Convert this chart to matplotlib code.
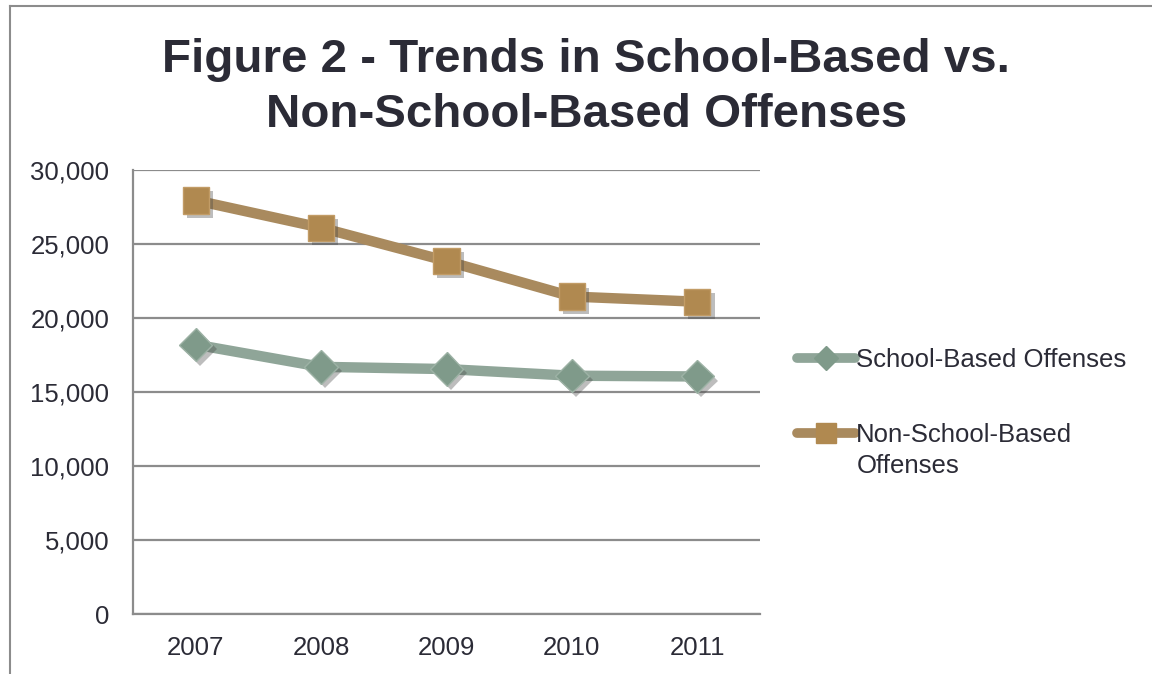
import matplotlib
matplotlib.use('Agg')
import matplotlib.pyplot as plt
import matplotlib.patheffects as pe
from matplotlib.lines import Line2D
from matplotlib.ticker import FuncFormatter

years = ['2007', '2008', '2009', '2010', '2011']
school_based = [18200, 16700, 16550, 16100, 16050]
non_school_based = [27950, 26100, 23850, 21450, 21100]
series_names = ['School-Based Offenses', 'Non-School-Based', 'Offenses']

plt.rcParams['font.family'] = ['Liberation Sans', 'DejaVu Sans']
text_color = '#2b2b36'
grid_color = '#8c8c8c'
green_line = '#8fa598'
green_mark = '#7f9a8a'
brown_line = '#a98a5e'
brown_mark = '#b08950'

W, H = 1152, 674
fig = plt.figure(figsize=(W / 100, H / 100), dpi=100)
ax = fig.add_axes([133 / W, 1 - 614 / H, (760 - 133) / W, (614 - 170) / H])

x = list(range(len(years)))
shadow = [pe.SimplePatchShadow(offset=(3, -3), shadow_rgbFace='#444444', alpha=0.35), pe.Normal()]

ax.plot(x, school_based, color=green_line, lw=7.5, solid_capstyle='round', zorder=3)
ax.plot(x, school_based, ls='none', marker='D', ms=17, color=green_mark,
        mec='#9db2a5', mew=1, zorder=4, path_effects=shadow)
ax.plot(x, non_school_based, color=brown_line, lw=7.5, solid_capstyle='round', zorder=3)
ax.plot(x, non_school_based, ls='none', marker='s', ms=19, color=brown_mark,
        mec='#c29c66', mew=1, zorder=4, path_effects=shadow)

ax.set_xlim(-0.5, 4.5)
ax.set_ylim(0, 30000)
ax.set_yticks(range(0, 30001, 5000))
ax.yaxis.set_major_formatter(FuncFormatter(lambda v, p: f'{int(v):,}'))
ax.set_xticks(x)
ax.set_xticklabels(years)
ax.tick_params(length=0, labelsize=18.5, labelcolor=text_color)
ax.tick_params(axis='y', pad=17)
ax.tick_params(axis='x', pad=16)
ax.grid(axis='y', color=grid_color, lw=1.6)
ax.set_axisbelow(True)
for s in ['top', 'right']:
    ax.spines[s].set_visible(False)
for s in ['left', 'bottom']:
    ax.spines[s].set_color(grid_color)
    ax.spines[s].set_linewidth(1.6)

handles = [
    Line2D([], [], color=green_line, lw=7, marker='D', ms=12, mfc=green_mark, mec=green_mark,
           solid_capstyle='round'),
    Line2D([], [], color=brown_line, lw=7, marker='s', ms=14, mfc=brown_mark, mec=brown_mark,
           solid_capstyle='round'),
]
leg = fig.legend(handles, series_names[:2], loc='upper left', bbox_to_anchor=(0.672, 0.518),
                 frameon=False, fontsize=18.5, handlelength=2.25, handletextpad=0.05,
                 labelspacing=2.0, labelcolor=text_color)

# second line of the wrapped legend label, placed just below the first line
fig.canvas.draw()
bb = leg.get_texts()[1].get_window_extent()
fig.text(bb.x0 / W, (bb.y0 - 31) / H, series_names[2], ha='left', va='bottom',
         fontsize=18.5, color=text_color)

fig.text(0.509, 0.943, 'Figure 2 - Trends in School-Based vs.\nNon-School-Based Offenses',
         ha='center', va='top', fontsize=34.2, fontweight='bold', color=text_color,
         linespacing=1.3)

# outer frame (left and top edges)
fig.add_artist(Line2D([10 / W, 10 / W], [0, 1 - 6 / H], transform=fig.transFigure,
                      color='#8c8c8c', lw=1.5))
fig.add_artist(Line2D([10 / W, 1], [1 - 6 / H, 1 - 6 / H], transform=fig.transFigure,
                      color='#8c8c8c', lw=1.5))

fig.savefig('out.png', dpi=100)
